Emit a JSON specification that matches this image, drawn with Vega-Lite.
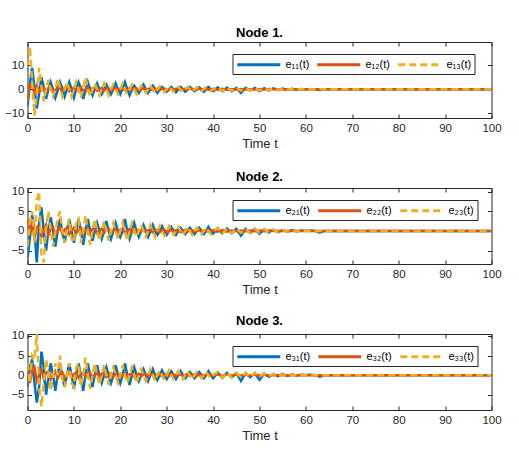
{
"$schema": "https://vega.github.io/schema/vega-lite/v6.json",
"padding": {"left": 3.5, "top": 26, "right": 5, "bottom": 5},
"datasets": {"d": [
{"t":0,"a1":-7,"a2":-5,"a3":10,"b1":-7,"b2":3,"b3":-4,"c1":-3,"c2":2,"c3":3},
{"t":0.5,"a1":2,"a2":2,"a3":18,"b1":-2,"b2":-1,"b3":2,"c1":2,"c2":-2,"c3":-2},
{"t":1,"a1":9,"a2":1,"a3":4,"b1":4,"b2":2,"b3":5,"c1":4,"c2":1,"c3":5},
{"t":1.5,"a1":1,"a2":-1.5,"a3":-11,"b1":0,"b2":-2,"b3":-3,"c1":-2,"c2":2,"c3":4},
{"t":2,"a1":-8,"a2":1.5,"a3":-2,"b1":-8,"b2":1,"b3":8,"c1":-7,"c2":-1.5,"c3":10.5},
{"t":2.5,"a1":-2,"a2":-1,"a3":9,"b1":2,"b2":1.5,"b3":10,"c1":-3,"c2":0,"c3":-3},
{"t":3,"a1":5,"a2":0.5,"a3":1,"b1":6,"b2":-1.5,"b3":-6,"c1":6,"c2":1.5,"c3":-8},
{"t":3.5,"a1":1,"a2":1,"a3":-5,"b1":0,"b2":0,"b3":-8,"c1":2,"c2":-1,"c3":-2},
{"t":4,"a1":-4,"a2":-1,"a3":0,"b1":-5,"b2":1.5,"b3":1,"c1":-5,"c2":0.5,"c3":4},
{"t":4.5,"a1":0,"a2":0.5,"a3":4,"b1":0,"b2":-1,"b3":5,"c1":-1,"c2":1,"c3":1},
{"t":5,"a1":3,"a2":1,"a3":0,"b1":3.5,"b2":0.5,"b3":0,"c1":3,"c2":-1,"c3":-4},
{"t":5.5,"a1":0,"a2":-1,"a3":-3,"b1":0,"b2":1,"b3":-4,"c1":0,"c2":0,"c3":0},
{"t":6,"a1":-3.5,"a2":-0.5,"a3":0,"b1":-4,"b2":-1,"b3":0,"c1":-4,"c2":1,"c3":3},
{"t":6.5,"a1":-0.5,"a2":1,"a3":4.5,"b1":0,"b2":0,"b3":3,"c1":0,"c2":-0.8,"c3":0},
{"t":7,"a1":3,"a2":0.5,"a3":1,"b1":3,"b2":1,"b3":5,"c1":3,"c2":0.3,"c3":5},
{"t":7.5,"a1":0.5,"a2":-1,"a3":-3,"b1":0,"b2":-0.8,"b3":0,"c1":0,"c2":0.8,"c3":-1},
{"t":8,"a1":-3,"a2":0.5,"a3":0,"b1":-3,"b2":0.3,"b3":-3,"c1":-3,"c2":-0.8,"c3":-3},
{"t":8.5,"a1":0,"a2":1,"a3":3,"b1":0,"b2":0.8,"b3":0,"c1":0,"c2":0,"c3":0},
{"t":9,"a1":3,"a2":-0.8,"a3":0,"b1":3,"b2":-0.8,"b3":3,"c1":3,"c2":0.8,"c3":3},
{"t":9.5,"a1":0,"a2":0,"a3":-3,"b1":0,"b2":0,"b3":-2,"c1":0,"c2":-0.6,"c3":-2},
{"t":10,"a1":-3.5,"a2":0.8,"a3":0,"b1":-3,"b2":0.8,"b3":-3,"c1":-3.5,"c2":0.2,"c3":-3},
{"t":10.5,"a1":0,"a2":-0.6,"a3":3,"b1":0,"b2":-0.6,"b3":2,"c1":0,"c2":0.7,"c3":2},
{"t":11,"a1":3,"a2":0.2,"a3":0,"b1":3,"b2":0.2,"b3":3,"c1":3,"c2":-0.7,"c3":3},
{"t":11.5,"a1":0.5,"a2":0.8,"a3":-3.5,"b1":0,"b2":0.7,"b3":-3,"c1":0,"c2":0,"c3":-3},
{"t":12,"a1":-4,"a2":-0.7,"a3":1,"b1":-3.5,"b2":-0.7,"b3":0,"c1":-4,"c2":0.6,"c3":0},
{"t":12.5,"a1":-0.5,"a2":0,"a3":5,"b1":0,"b2":0,"b3":4,"c1":0,"c2":-0.5,"c3":4.5},
{"t":13,"a1":3,"a2":0.7,"a3":0,"b1":3,"b2":0.6,"b3":0,"c1":3,"c2":0.5,"c3":0},
{"t":13.5,"a1":0,"a2":-0.5,"a3":-3,"b1":0,"b2":-0.5,"b3":-3.5,"c1":0,"c2":0.6,"c3":-3.5},
{"t":14,"a1":-2.5,"a2":0.5,"a3":0,"b1":-2.5,"b2":0.5,"b3":0,"c1":-3,"c2":-0.6,"c3":0},
{"t":14.5,"a1":0,"a2":0.6,"a3":2.5,"b1":0,"b2":0.6,"b3":3,"c1":0,"c2":0,"c3":3},
{"t":15,"a1":2.5,"a2":-0.6,"a3":0,"b1":2,"b2":-0.6,"b3":0,"c1":2.5,"c2":0.6,"c3":0},
{"t":15.5,"a1":0,"a2":0,"a3":-2.5,"b1":0,"b2":0,"b3":-2.5,"c1":0,"c2":-0.5,"c3":-2.5},
{"t":16,"a1":-2,"a2":0.6,"a3":0,"b1":-2,"b2":0.6,"b3":0,"c1":-2,"c2":0.4,"c3":0},
{"t":16.5,"a1":0,"a2":-0.5,"a3":2.5,"b1":0,"b2":-0.5,"b3":2.5,"c1":0,"c2":0.5,"c3":2.5},
{"t":17,"a1":2,"a2":0.4,"a3":0,"b1":2.5,"b2":0.4,"b3":0,"c1":2,"c2":-0.5,"c3":0},
{"t":17.5,"a1":0,"a2":0.5,"a3":-2.5,"b1":0,"b2":0.5,"b3":-2.5,"c1":0,"c2":0,"c3":-2.5},
{"t":18,"a1":-2,"a2":-0.5,"a3":0,"b1":-2,"b2":-0.5,"b3":0,"c1":-2,"c2":0.5,"c3":0},
{"t":18.5,"a1":0,"a2":0,"a3":2,"b1":0,"b2":0,"b3":2,"c1":0,"c2":-0.4,"c3":2},
{"t":19,"a1":2.5,"a2":0.5,"a3":0,"b1":2,"b2":0.5,"b3":0,"c1":2.5,"c2":0.3,"c3":0},
{"t":19.5,"a1":0,"a2":-0.4,"a3":-2,"b1":0,"b2":-0.4,"b3":-2,"c1":0,"c2":0.5,"c3":-2},
{"t":20,"a1":-2,"a2":0.3,"a3":0,"b1":-1.5,"b2":0.3,"b3":0,"c1":-2,"c2":-0.5,"c3":0},
{"t":20.5,"a1":0.5,"a2":0.5,"a3":2.5,"b1":0,"b2":0.5,"b3":2,"c1":0,"c2":0,"c3":2.5},
{"t":21,"a1":3,"a2":-0.5,"a3":0,"b1":3,"b2":-0.5,"b3":0,"c1":3,"c2":0.5,"c3":0},
{"t":21.5,"a1":0,"a2":0,"a3":-2,"b1":0,"b2":0,"b3":-2.5,"c1":0,"c2":-0.4,"c3":-2},
{"t":22,"a1":-2.5,"a2":0.5,"a3":0,"b1":-2,"b2":0.5,"b3":0,"c1":-2.5,"c2":0.2,"c3":0},
{"t":22.5,"a1":0,"a2":-0.4,"a3":2,"b1":0,"b2":-0.4,"b3":2,"c1":0,"c2":0.4,"c3":2},
{"t":23,"a1":1.5,"a2":0.2,"a3":0,"b1":2,"b2":0.2,"b3":0,"c1":2,"c2":-0.4,"c3":0},
{"t":23.5,"a1":0,"a2":0.4,"a3":-2,"b1":0,"b2":0.4,"b3":-1.5,"c1":0,"c2":0,"c3":-2},
{"t":24,"a1":-1.5,"a2":-0.4,"a3":0,"b1":-1.5,"b2":-0.4,"b3":0,"c1":-1.5,"c2":0.4,"c3":0},
{"t":24.5,"a1":0,"a2":0,"a3":1.5,"b1":0,"b2":0,"b3":1.5,"c1":0,"c2":-0.3,"c3":1.5},
{"t":25,"a1":2,"a2":0.4,"a3":0,"b1":1.5,"b2":0.4,"b3":0,"c1":1.5,"c2":0.2,"c3":0},
{"t":25.5,"a1":0,"a2":-0.3,"a3":-1.5,"b1":0,"b2":-0.3,"b3":-1.5,"c1":0,"c2":0.3,"c3":-1.5},
{"t":26,"a1":-1.5,"a2":0.2,"a3":0,"b1":-1.5,"b2":0.2,"b3":0,"c1":-1.5,"c2":-0.3,"c3":0},
{"t":26.5,"a1":0,"a2":0.4,"a3":1.5,"b1":0,"b2":0.4,"b3":1.5,"c1":0,"c2":0,"c3":1.5},
{"t":27,"a1":1.5,"a2":-0.4,"a3":0,"b1":1.5,"b2":-0.4,"b3":0,"c1":1.5,"c2":0.3,"c3":0},
{"t":27.5,"a1":0,"a2":0,"a3":-1.5,"b1":0,"b2":0,"b3":-1.5,"c1":0,"c2":-0.3,"c3":-1.5},
{"t":28,"a1":-1.5,"a2":0.3,"a3":0,"b1":-1,"b2":0.3,"b3":0,"c1":-1.2,"c2":0.2,"c3":0},
{"t":28.5,"a1":0,"a2":-0.3,"a3":1.2,"b1":0,"b2":-0.3,"b3":1.2,"c1":0,"c2":0.3,"c3":1.2},
{"t":29,"a1":1,"a2":0.2,"a3":0,"b1":1.2,"b2":0.2,"b3":0,"c1":1.2,"c2":-0.3,"c3":0},
{"t":29.5,"a1":0,"a2":0.3,"a3":-1.2,"b1":0,"b2":0.3,"b3":-1.2,"c1":0,"c2":0,"c3":-1.2},
{"t":30,"a1":-1,"a2":-0.3,"a3":0,"b1":-1,"b2":-0.3,"b3":0,"c1":-1,"c2":0.3,"c3":0},
{"t":30.5,"a1":0,"a2":0,"a3":1.2,"b1":0,"b2":0,"b3":1.2,"c1":0,"c2":-0.2,"c3":1.2},
{"t":31,"a1":1,"a2":0.3,"a3":0,"b1":1,"b2":0.3,"b3":0,"c1":1,"c2":0.2,"c3":0},
{"t":31.5,"a1":0,"a2":-0.3,"a3":-1,"b1":0,"b2":-0.3,"b3":-1,"c1":0,"c2":0.2,"c3":-1},
{"t":32,"a1":-1.2,"a2":0.2,"a3":0,"b1":-1,"b2":0.2,"b3":0,"c1":-1,"c2":-0.2,"c3":0},
{"t":32.5,"a1":0,"a2":0.3,"a3":1,"b1":0,"b2":0.3,"b3":1,"c1":0,"c2":0,"c3":1},
{"t":33,"a1":1,"a2":-0.3,"a3":0,"b1":0.8,"b2":-0.3,"b3":0,"c1":1,"c2":0.2,"c3":0},
{"t":33.5,"a1":0,"a2":0,"a3":-1,"b1":0,"b2":0,"b3":-1,"c1":0,"c2":-0.2,"c3":-1},
{"t":34,"a1":-1,"a2":0.3,"a3":0,"b1":-0.8,"b2":0.3,"b3":0,"c1":-0.8,"c2":0.1,"c3":0},
{"t":34.5,"a1":0,"a2":-0.2,"a3":1,"b1":0,"b2":-0.2,"b3":1,"c1":0,"c2":0.2,"c3":1},
{"t":35,"a1":1,"a2":0.2,"a3":0,"b1":0.8,"b2":0.2,"b3":0,"c1":0.8,"c2":-0.2,"c3":0},
{"t":35.5,"a1":0,"a2":0.2,"a3":-1,"b1":0,"b2":0.2,"b3":-1,"c1":0,"c2":0,"c3":-1},
{"t":36,"a1":-0.8,"a2":-0.2,"a3":0,"b1":-0.8,"b2":-0.2,"b3":0,"c1":-0.8,"c2":0.2,"c3":0},
{"t":36.5,"a1":0,"a2":0,"a3":0.8,"b1":0,"b2":0,"b3":0.8,"c1":0,"c2":-0.2,"c3":0.8},
{"t":37,"a1":0.8,"a2":0.2,"a3":0,"b1":0.8,"b2":0.2,"b3":0,"c1":0.8,"c2":0.1,"c3":0},
{"t":37.5,"a1":0,"a2":-0.2,"a3":-0.8,"b1":0,"b2":-0.2,"b3":-0.8,"c1":0,"c2":0.2,"c3":-0.8},
{"t":38,"a1":-1,"a2":0.1,"a3":0,"b1":-0.8,"b2":0.1,"b3":0,"c1":-0.8,"c2":-0.2,"c3":0},
{"t":38.5,"a1":0,"a2":0.2,"a3":0.8,"b1":0,"b2":0.2,"b3":0.8,"c1":0,"c2":0,"c3":0.8},
{"t":39,"a1":1,"a2":-0.2,"a3":0,"b1":1,"b2":-0.2,"b3":0,"c1":1,"c2":0.2,"c3":0},
{"t":39.5,"a1":0,"a2":0,"a3":-0.8,"b1":0,"b2":0,"b3":-0.8,"c1":0,"c2":-0.1,"c3":-0.8},
{"t":40,"a1":-0.8,"a2":0.2,"a3":0,"b1":-0.7,"b2":0.2,"b3":0,"c1":-0.8,"c2":0.1,"c3":0},
{"t":41,"a1":0.8,"a2":-0.2,"a3":0.8,"b1":0.7,"b2":-0.2,"b3":0.7,"c1":0.7,"c2":0.2,"c3":0.8},
{"t":42,"a1":-0.8,"a2":0.2,"a3":-0.7,"b1":-0.6,"b2":0.2,"b3":-0.7,"c1":-0.7,"c2":-0.2,"c3":-0.7},
{"t":43,"a1":0.7,"a2":-0.2,"a3":0.8,"b1":0.6,"b2":-0.2,"b3":0.6,"c1":0.6,"c2":0.2,"c3":0.7},
{"t":44,"a1":-0.8,"a2":0.1,"a3":-0.6,"b1":-0.6,"b2":0.1,"b3":-0.6,"c1":-0.6,"c2":-0.1,"c3":-0.6},
{"t":45,"a1":0.6,"a2":-0.1,"a3":0.7,"b1":0.5,"b2":-0.1,"b3":0.6,"c1":0.5,"c2":0.1,"c3":0.6},
{"t":46,"a1":-1.5,"a2":0.1,"a3":-0.6,"b1":-1.2,"b2":0.1,"b3":-0.5,"c1":-1.5,"c2":-0.1,"c3":-0.5},
{"t":47,"a1":0.6,"a2":-0.1,"a3":0.5,"b1":0.5,"b2":-0.1,"b3":0.5,"c1":0.5,"c2":0.1,"c3":0.5},
{"t":48,"a1":-0.5,"a2":0.1,"a3":-0.5,"b1":-0.5,"b2":0.1,"b3":-0.5,"c1":-0.5,"c2":-0.1,"c3":-0.5},
{"t":49,"a1":0.6,"a2":-0.1,"a3":0.6,"b1":0.5,"b2":-0.1,"b3":0.5,"c1":0.5,"c2":0.1,"c3":0.6},
{"t":50,"a1":-0.8,"a2":0.1,"a3":-0.5,"b1":-0.7,"b2":0.1,"b3":-0.4,"c1":-1.2,"c2":-0.1,"c3":-0.4},
{"t":51,"a1":0.5,"a2":-0.1,"a3":0.4,"b1":0.4,"b2":-0.1,"b3":0.4,"c1":0.4,"c2":0.1,"c3":0.4},
{"t":52,"a1":-0.5,"a2":0.1,"a3":-0.4,"b1":-0.4,"b2":0.1,"b3":-0.3,"c1":-0.4,"c2":-0.1,"c3":-0.3},
{"t":53,"a1":0.4,"a2":0,"a3":0.3,"b1":0.3,"b2":0,"b3":0.3,"c1":0.3,"c2":0,"c3":0.3},
{"t":54,"a1":-0.3,"a2":0,"a3":-0.3,"b1":-0.3,"b2":0,"b3":-0.3,"c1":-0.3,"c2":0,"c3":-0.3},
{"t":55,"a1":0.3,"a2":0,"a3":0.3,"b1":0.2,"b2":0,"b3":0.2,"c1":0.3,"c2":0,"c3":0.2},
{"t":56,"a1":-0.3,"a2":0,"a3":-0.2,"b1":-0.2,"b2":0,"b3":-0.2,"c1":-0.2,"c2":0,"c3":-0.2},
{"t":57,"a1":0.2,"a2":0,"a3":0.2,"b1":0.2,"b2":0,"b3":0.2,"c1":0.2,"c2":0,"c3":0.2},
{"t":58,"a1":-0.2,"a2":0,"a3":-0.1,"b1":-0.1,"b2":0,"b3":-0.1,"c1":-0.1,"c2":0,"c3":-0.1},
{"t":59,"a1":0.1,"a2":0,"a3":0.1,"b1":0.1,"b2":0,"b3":0.1,"c1":0.1,"c2":0,"c3":0.1},
{"t":60,"a1":0,"a2":0,"a3":0,"b1":0,"b2":0,"b3":0,"c1":0,"c2":0,"c3":0},
{"t":61,"a1":0.1,"a2":0,"a3":0,"b1":0.1,"b2":0,"b3":0,"c1":0.1,"c2":0,"c3":0},
{"t":62,"a1":0,"a2":0,"a3":0,"b1":0,"b2":0,"b3":0,"c1":0,"c2":0,"c3":0},
{"t":63,"a1":-0.3,"a2":0,"a3":0,"b1":-0.4,"b2":0,"b3":0,"c1":-0.4,"c2":0,"c3":0},
{"t":64,"a1":0,"a2":0,"a3":0,"b1":0,"b2":0,"b3":0,"c1":0,"c2":0,"c3":0},
{"t":100,"a1":0,"a2":0,"a3":0,"b1":0,"b2":0,"b3":0,"c1":0,"c2":0,"c3":0}
]},
"vconcat": [
{
 "width": 464, "height": 76,
 "title": {"text": "Node 1.", "frame": "group"},
 "data": {"name": "d"},
 "transform": [{"fold": ["a1", "a2", "a3"], "as": ["s", "v"]}],
 "layer": [
  {"mark": {"type": "line", "strokeWidth": 2.5, "clip": true},
   "encoding": {
    "x": {"field": "t", "type": "quantitative", "scale": {"domain": [0, 100], "nice": false}, "axis": {"values": [0,10,20,30,40,50,60,70,80,90,100], "title": "Time t"}},
    "y": {"field": "v", "type": "quantitative", "scale": {"domain": [-12, 19.8], "nice": false, "zero": false}, "axis": {"values": [-10, 0, 10], "title": null}},
    "color": {"field": "s", "type": "nominal", "scale": {"domain": ["a1","a2","a3"], "range": ["#0072BD","#D95319","#EDB120"]}, "legend": {"labelExpr": "datum.label=='a1'?'e₁₁(t)':datum.label=='a2'?'e₁₂(t)':'e₁₃(t)'"}},
    "strokeDash": {"field": "s", "type": "nominal", "scale": {"domain": ["a1","a2","a3"], "range": [[1,0],[1,0],[7,4]]}, "legend": {"labelExpr": "datum.label=='a1'?'e₁₁(t)':datum.label=='a2'?'e₁₂(t)':'e₁₃(t)'"}}
   }},
  {"mark": {"type": "line", "opacity": 0},
   "encoding": {
    "x": {"field": "t", "type": "quantitative", "axis": {"orient": "top", "values": [0,10,20,30,40,50,60,70,80,90,100], "labels": false, "title": null}},
    "y": {"field": "v", "type": "quantitative", "axis": {"orient": "right", "values": [-10, 0, 10], "labels": false, "title": null}}
   }}
 ],
 "resolve": {"axis": {"x": "independent", "y": "independent"}}
},
{
 "width": 464, "height": 76,
 "title": {"text": "Node 2.", "frame": "group"},
 "data": {"name": "d"},
 "transform": [{"fold": ["b1", "b2", "b3"], "as": ["s", "v"]}],
 "layer": [
  {"mark": {"type": "line", "strokeWidth": 2.5, "clip": true},
   "encoding": {
    "x": {"field": "t", "type": "quantitative", "scale": {"domain": [0, 100], "nice": false}, "axis": {"values": [0,10,20,30,40,50,60,70,80,90,100], "title": "Time t"}},
    "y": {"field": "v", "type": "quantitative", "scale": {"domain": [-8.4, 10.9], "nice": false, "zero": false}, "axis": {"values": [-5, 0, 5, 10], "title": null}},
    "color": {"field": "s", "type": "nominal", "scale": {"domain": ["b1","b2","b3"], "range": ["#0072BD","#D95319","#EDB120"]}, "legend": {"labelExpr": "datum.label=='b1'?'e₂₁(t)':datum.label=='b2'?'e₂₂(t)':'e₂₃(t)'"}},
    "strokeDash": {"field": "s", "type": "nominal", "scale": {"domain": ["b1","b2","b3"], "range": [[1,0],[1,0],[7,4]]}, "legend": {"labelExpr": "datum.label=='b1'?'e₂₁(t)':datum.label=='b2'?'e₂₂(t)':'e₂₃(t)'"}}
   }},
  {"mark": {"type": "line", "opacity": 0},
   "encoding": {
    "x": {"field": "t", "type": "quantitative", "axis": {"orient": "top", "values": [0,10,20,30,40,50,60,70,80,90,100], "labels": false, "title": null}},
    "y": {"field": "v", "type": "quantitative", "axis": {"orient": "right", "values": [-5, 0, 5, 10], "labels": false, "title": null}}
   }}
 ],
 "resolve": {"axis": {"x": "independent", "y": "independent"}}
},
{
 "width": 464, "height": 76,
 "title": {"text": "Node 3.", "frame": "group"},
 "data": {"name": "d"},
 "transform": [{"fold": ["c1", "c2", "c3"], "as": ["s", "v"]}],
 "layer": [
  {"mark": {"type": "line", "strokeWidth": 2.5, "clip": true},
   "encoding": {
    "x": {"field": "t", "type": "quantitative", "scale": {"domain": [0, 100], "nice": false}, "axis": {"values": [0,10,20,30,40,50,60,70,80,90,100], "title": "Time t"}},
    "y": {"field": "v", "type": "quantitative", "scale": {"domain": [-8.9, 10.5], "nice": false, "zero": false}, "axis": {"values": [-5, 0, 5, 10], "title": null}},
    "color": {"field": "s", "type": "nominal", "scale": {"domain": ["c1","c2","c3"], "range": ["#0072BD","#D95319","#EDB120"]}, "legend": {"labelExpr": "datum.label=='c1'?'e₃₁(t)':datum.label=='c2'?'e₃₂(t)':'e₃₃(t)'"}},
    "strokeDash": {"field": "s", "type": "nominal", "scale": {"domain": ["c1","c2","c3"], "range": [[1,0],[1,0],[7,4]]}, "legend": {"labelExpr": "datum.label=='c1'?'e₃₁(t)':datum.label=='c2'?'e₃₂(t)':'e₃₃(t)'"}}
   }},
  {"mark": {"type": "line", "opacity": 0},
   "encoding": {
    "x": {"field": "t", "type": "quantitative", "axis": {"orient": "top", "values": [0,10,20,30,40,50,60,70,80,90,100], "labels": false, "title": null}},
    "y": {"field": "v", "type": "quantitative", "axis": {"orient": "right", "values": [-5, 0, 5, 10], "labels": false, "title": null}}
   }}
 ],
 "resolve": {"axis": {"x": "independent", "y": "independent"}}
}
],
"spacing": 70,
"bounds": "flush",
"resolve": {"scale": {"color": "independent", "strokeDash": "independent"}, "legend": {"color": "independent", "strokeDash": "independent"}},
"config": {
 "font": "Liberation Sans",
 "background": "white",
 "view": {"stroke": "#262626", "strokeWidth": 1},
 "axis": {"grid": false, "domain": false, "ticks": true, "tickColor": "#262626", "tickSize": -4, "labelColor": "#262626", "labelFontSize": 11.5, "labelFlush": false, "titleColor": "#262626", "titleFontSize": 13, "titleFontWeight": "normal"},
 "axisX": {"labelPadding": 8.5, "titlePadding": 3},
 "axisY": {"labelPadding": 7.5},
 "title": {"fontSize": 13, "fontWeight": "bold", "color": "#000000", "offset": 2},
 "legend": {"orient": "none", "legendX": 205, "legendY": 12, "direction": "horizontal", "title": null, "symbolType": "M-0.95,0H6.22", "symbolSize": 144, "symbolStrokeWidth": 3, "labelFontSize": 11, "labelColor": "#000000", "labelOffset": 35, "columnPadding": 1, "padding": 3, "strokeColor": "#262626", "fillColor": "white", "cornerRadius": 0}
}
}
